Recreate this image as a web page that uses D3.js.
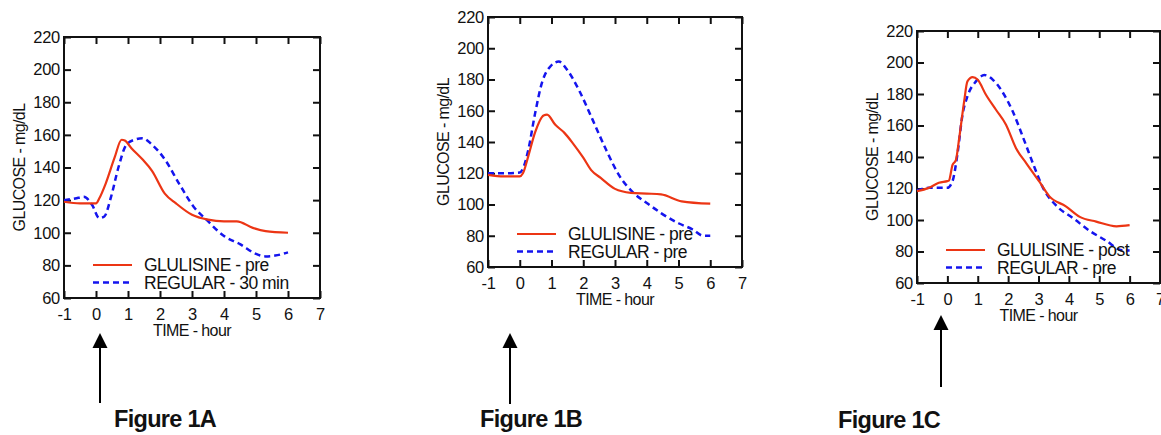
<!DOCTYPE html>
<html>
<head>
<meta charset="utf-8">
<script src="https://cdn.jsdelivr.net/npm/d3@7"></script>
<style>
  body { margin: 0; background: #fff; }
  svg text { font-family: "Liberation Sans", Arial, sans-serif; fill: #111; }
</style>
</head>
<body>
<svg id="chart" width="1161" height="435"></svg>
<script>
// axis ticks shared by all three figures
let xTicks = [-1, 0, 1, 2, 3, 4, 5, 6, 7];
let yTicks = [60, 80, 100, 120, 140, 160, 180, 200, 220];

// Figure 1A  [hour, mg/dL]
let aGlulisinePre = [[-1,119],[-0.5,118],[0,118],[0.1,121],[0.3,130],[0.58,146],[0.8,157],[0.9,156.5],[1.1,152],[1.45,145],[1.75,138],[2.15,124],[2.5,118],[3,111],[3.5,108],[4,107],[4.4,107],[4.9,103],[5.3,101],[6,100]];
let aRegular30 = [[-1,120],[-0.65,121],[-0.38,122],[-0.12,117],[0.1,109],[0.26,110],[0.47,122],[0.7,140],[0.95,154],[1.2,157],[1.45,158],[1.75,154],[2.15,145],[2.6,130],[3.05,116],[3.45,108],[4,98],[4.5,93],[5,87],[5.3,85.5],[5.6,86],[6,88]];

// Figure 1B
let bGlulisinePre = [[-1,119],[-0.5,118],[0,118],[0.1,120],[0.27,131],[0.48,146],[0.75,157],[0.86,157.5],[1.12,151],[1.4,146],[1.68,139],[2,130],[2.25,122],[2.55,117],[3,110],[3.5,107.5],[4,107],[4.45,106.5],[5.1,102],[6,100.5]];
let bRegularPre = [[-1,120],[-0.5,120],[0,120.5],[0.1,123],[0.27,135],[0.48,158],[0.7,178],[0.97,188.5],[1.23,191.5],[1.5,186],[1.87,173],[2.3,154],[2.72,135],[3.15,118],[3.58,107.5],[4,101],[4.45,94.5],[5,88],[5.45,84],[5.78,80],[6,80]];

// Figure 1C
let cGlulisinePost = [[-1,118.3],[-0.61,120.4],[-0.28,123.6],[0,124.7],[0.05,125],[0.17,135],[0.28,138],[0.39,152],[0.55,175],[0.66,188],[0.83,190.7],[1,189],[1.27,179.5],[1.6,170],[1.93,160.5],[2.26,145.6],[2.6,136],[3.03,124.3],[3.36,115],[3.9,108.7],[4.36,102],[4.9,99],[5.57,96],[6,96.7]];
let cRegularPre = [[-1,118.8],[-0.61,120.4],[0,120.4],[0.17,124.7],[0.33,141.7],[0.5,167],[0.66,178.5],[0.94,188],[1.22,192],[1.5,189],[1.8,181.7],[2.15,169],[2.5,152],[2.83,135.3],[3.15,120.4],[3.6,108.8],[4.15,101],[4.7,92.9],[5.25,86.6],[5.7,81],[6,80.6]];

let figureNames = ['Figure 1A', 'Figure 1B', 'Figure 1C'];
let legendSolid = ['GLULISINE - pre', 'GLULISINE - pre', 'GLULISINE - post'];
let legendDashed = ['REGULAR - 30 min', 'REGULAR - pre', 'REGULAR - pre'];

let red = '#ec3514',
    blue = '#1414ee';

// frame boxes + arrow / caption placement per figure
let panels = [
  { box: [64, 37, 320, 298], solid: aGlulisinePre, dashed: aRegular30,
    arrow: [100, 333, 403], caption: [114, 427] },
  { box: [488, 17, 742, 267], solid: bGlulisinePre, dashed: bRegularPre,
    arrow: [510, 333, 404], caption: [480, 427] },
  { box: [917, 31, 1160, 283], solid: cGlulisinePost, dashed: cRegularPre,
    arrow: [941, 315, 387], caption: [838, 428] }
];

let $svg = d3.select('#chart');

$svg.append('rect')
  .attr('width', 1161).attr('height', 435)
  .attr('fill', '#fff');

panels.forEach((p, i) => {
  let [x0, y0, x1, y1] = p.box;

  let x = d3.scaleLinear().domain([-1, 7]).range([x0, x1]);
  let y = d3.scaleLinear().domain([60, 220]).range([y1, y0]);

  let $g = $svg.append('g');

  // ticks pointing inward on all four sides
  let tickLen = 7;
  let fmt = d => String(d);
  let ax = [
    d3.axisBottom(x).tickValues(xTicks).tickSizeInner(-tickLen).tickSizeOuter(0).tickPadding(10).tickFormat(fmt),
    d3.axisTop(x).tickValues(xTicks).tickSizeInner(-tickLen).tickSizeOuter(0).tickFormat(''),
    d3.axisLeft(y).tickValues(yTicks).tickSizeInner(-tickLen).tickSizeOuter(0).tickPadding(4).tickFormat(fmt),
    d3.axisRight(y).tickValues(yTicks).tickSizeInner(-tickLen).tickSizeOuter(0).tickFormat('')
  ];
  let shifts = [[0, y1], [0, y0], [x0, 0], [x1, 0]];

  ax.forEach((a, k) => {
    let $a = $g.append('g')
      .attr('transform', `translate(${shifts[k][0]},${shifts[k][1]})`)
      .call(a);
    $a.select('.domain').remove();
    $a.selectAll('line').attr('stroke', '#111').attr('stroke-width', 2);
    $a.selectAll('text')
      .attr('font-size', 16.5)
      .attr('letter-spacing', -0.3)
      .attr('fill', '#111')
      .style('font-family', '"Liberation Sans", Arial, sans-serif');
  });

  $g.append('rect')
    .attr('x', x0).attr('y', y0)
    .attr('width', x1 - x0).attr('height', y1 - y0)
    .attr('fill', 'none')
    .attr('stroke', '#111')
    .attr('stroke-width', 2);

  // axis titles
  $g.append('text')
    .attr('transform', `translate(${x0 - 45},${(y0 + y1) / 2}) rotate(-90)`)
    .attr('text-anchor', 'middle')
    .attr('dy', '0.35em')
    .attr('font-size', 16)
    .attr('letter-spacing', -0.6)
    .text('GLUCOSE - mg/dL');

  $g.append('text')
    .attr('x', (x0 + x1) / 2)
    .attr('y', y1 + 38)
    .attr('text-anchor', 'middle')
    .attr('font-size', 16)
    .attr('letter-spacing', -0.6)
    .text('TIME - hour');

  let line = d3.line()
    .x(d => x(d[0]))
    .y(d => y(d[1]))
    .curve(d3.curveMonotoneX);

  $g.append('path')
    .datum(p.dashed)
    .attr('d', line)
    .attr('fill', 'none')
    .attr('stroke', blue)
    .attr('stroke-width', 2.5)
    .attr('stroke-dasharray', '6,4');

  $g.append('path')
    .datum(p.solid)
    .attr('d', line)
    .attr('fill', 'none')
    .attr('stroke', red)
    .attr('stroke-width', 2.2);

  // legend
  let ly = y1 - 33;
  [[legendSolid[i], red, null], [legendDashed[i], blue, '6,4']].forEach((l, k) => {
    $g.append('line')
      .attr('x1', x0 + 29).attr('x2', x0 + 68)
      .attr('y1', ly + k * 17.5).attr('y2', ly + k * 17.5)
      .attr('stroke', l[1])
      .attr('stroke-width', l[2] ? 2.5 : 2.2)
      .attr('stroke-dasharray', l[2]);
    $g.append('text')
      .attr('x', x0 + 80)
      .attr('y', ly + k * 17.5)
      .attr('dy', '0.36em')
      .attr('font-size', 17.5)
      .attr('letter-spacing', -0.5)
      .text(l[0]);
  });

  // arrow pointing at the dosing time
  let [ax0, atop, abot] = p.arrow;
  $svg.append('line')
    .attr('x1', ax0).attr('x2', ax0)
    .attr('y1', atop + 12).attr('y2', abot)
    .attr('stroke', '#000')
    .attr('stroke-width', 2);
  $svg.append('path')
    .attr('d', `M${ax0},${atop} L${ax0 + 7.5},${atop + 15} L${ax0 - 7.5},${atop + 15} Z`)
    .attr('fill', '#000');

  $svg.append('text')
    .attr('x', p.caption[0])
    .attr('y', p.caption[1])
    .attr('font-size', 23.5)
    .attr('font-weight', 'bold')
    .attr('letter-spacing', -0.7)
    .attr('fill', '#000')
    .text(figureNames[i]);
});
</script>
</body>
</html>
